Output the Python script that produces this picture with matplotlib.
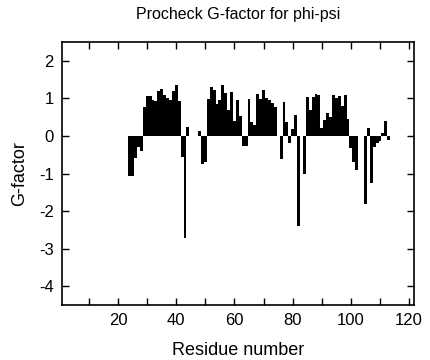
import numpy as np
import matplotlib
matplotlib.use("Agg")
import matplotlib.pyplot as plt
from matplotlib.ticker import MultipleLocator

plt.rcParams['font.family'] = ['Liberation Sans', 'DejaVu Sans']
plt.rcParams['axes.unicode_minus'] = False

# residue numbers and G-factor values
residues = list(range(24, 114))
gfactor = [
    -1.06, -1.06, -0.59, -0.30, -0.41,           # 24-28
    0.78, 1.07, 1.07, 0.96, 0.93, 1.20, 1.25,    # 29-35
    1.10, 1.00, 0.95, 1.20, 1.35, 0.93,          # 36-41
    -0.56, -2.71, 0.23, 0.0, 0.0, 0.0, 0.12,     # 42-48
    -0.74, -0.70, 0.98, 1.31, 1.22, 0.86, 0.97,  # 49-55
    1.36, 1.15, 0.69, 1.17, 0.40, 0.95, 0.53,    # 56-62
    -0.28, -0.26, 0.98, 0.38, 0.30, 1.11, 0.99,  # 63-69
    1.23, 1.00, 0.97, 0.88, 0.76, 0.0, -0.62,    # 70-76
    0.91, 0.36, -0.18, 0.19, 0.57, -2.40, 0.0,   # 77-83
    -1.01, 1.04, 0.69, 1.04, 1.12, 1.08, 0.22,   # 84-90
    0.42, 0.62, 0.50, 1.08, 1.02, 1.07, 0.80,    # 91-97
    1.10, 0.45, -0.32, -0.69, -0.90, 0.0, 0.0,   # 98-104
    -1.80, 0.20, -1.25, -0.30, -0.20, -0.13,     # 105-110
    0.07, 0.39, -0.12,                           # 111-113
]

fig = plt.figure(figsize=(4.31, 3.6), dpi=100)
ax = fig.add_axes([0.144, 0.153, 0.817, 0.730])

ax.bar(residues, gfactor, width=1.0, color="black", linewidth=0)

ax.set_xlim(0.75, 121.75)
ax.set_ylim(-4.5, 2.5)
ax.xaxis.set_minor_locator(MultipleLocator(10))
ax.yaxis.set_major_locator(MultipleLocator(1))
ax.set_xticks([20, 40, 60, 80, 100, 120])

ax.tick_params(which="both", direction="in", top=True, right=True,
               labelsize=12, width=1)
ax.tick_params(which="major", length=5, pad=6)
ax.tick_params(which="minor", length=5)
for s in ax.spines.values():
    s.set_linewidth(1.2)

ax.set_xlabel("Residue number", fontsize=13, labelpad=10)
ax.set_ylabel("G-factor", fontsize=13, labelpad=8)
ax.set_title("Procheck G-factor for phi-psi", fontsize=11.5, pad=17)

fig.savefig("out.png", dpi=100)
